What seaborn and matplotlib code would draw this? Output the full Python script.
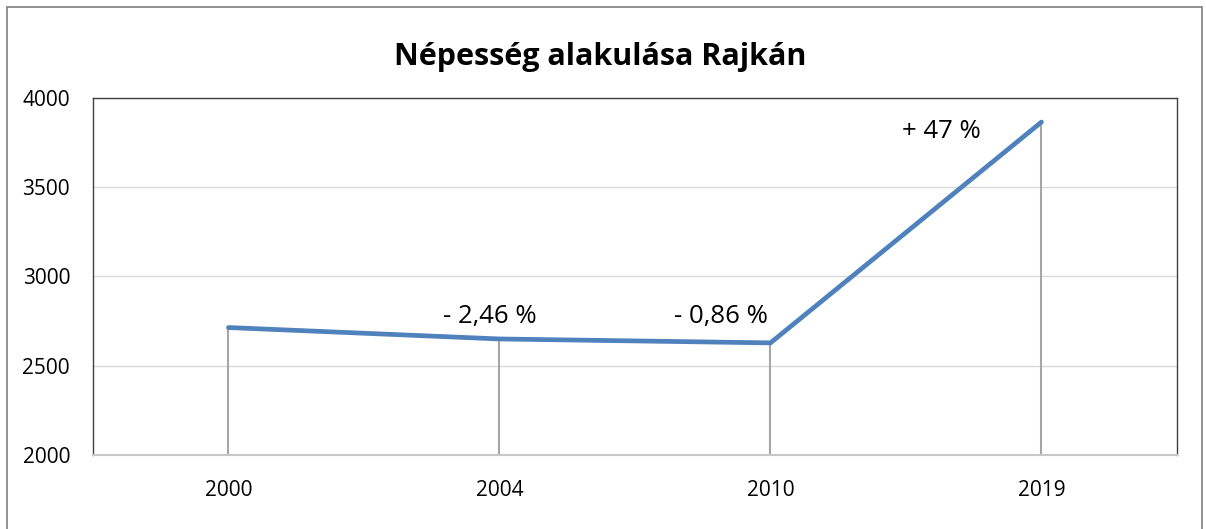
import matplotlib
matplotlib.use('Agg')
import matplotlib.pyplot as plt
from matplotlib.patches import Rectangle
import numpy as np
import pandas as pd
import seaborn as sns

# data
years = ['2000', '2004', '2010', '2019']
population = [2714, 2650, 2628, 3865]
change_labels = ['', '- 2,46 %', '- 0,86 %', '+ 47 %']
label_offsets_px = [(0, 0), (-10, 22), (-50, 26), (-100, -9)]

LINE_COLOR = '#4f81bd'
DROP_COLOR = '#a6a6a6'
GRID_COLOR = '#d9d9d9'

sns.set_style('white')
plt.rcParams['font.family'] = ['Open Sans', 'DejaVu Sans']
plt.rcParams['text.color'] = 'black'

df = pd.DataFrame({'pos': np.arange(len(years)), 'year': years, 'pop': population})

fig = plt.figure(figsize=(12.06, 5.29), dpi=100)
ax = fig.add_axes([0.0771, 0.1399, 0.8988, 0.6749])

# outer chart frame
fig.patches.append(Rectangle((7 / 1206, -0.05), 1195 / 1206, 1 - 7 / 529 + 0.05,
                             transform=fig.transFigure, fill=False,
                             edgecolor='#7f7f7f', linewidth=1.2))

ax.vlines(df['pos'], 2000, df['pop'], color=DROP_COLOR, linewidth=1.5, zorder=2)
sns.lineplot(data=df, x='pos', y='pop', ax=ax, color=LINE_COLOR, linewidth=3.4,
             solid_capstyle='round', zorder=3)

for i, row in df.iterrows():
    if change_labels[i]:
        ax.annotate(change_labels[i], xy=(row['pos'], row['pop']),
                    xytext=label_offsets_px[i], textcoords='offset pixels',
                    ha='center', va='center', fontsize=18.5, color='black')

ax.set_xlim(-0.5, len(years) - 0.5)
ax.set_ylim(2000, 4000)
ax.set_xticks(df['pos'])
ax.set_xticklabels(years)
ax.set_yticks([2000, 2500, 3000, 3500, 4000])
ax.tick_params(axis='both', length=0, labelsize=15, labelcolor='black')
ax.tick_params(axis='y', pad=16.5)
ax.tick_params(axis='x', pad=18)
ax.yaxis.grid(True, color=GRID_COLOR, linewidth=1.0, zorder=0)
ax.set_xlabel('')
ax.set_ylabel('')

for side in ['top', 'right', 'left']:
    ax.spines[side].set_color('#404040')
    ax.spines[side].set_linewidth(1.0)
ax.spines['bottom'].set_color('#c8c8c8')
ax.spines['bottom'].set_linewidth(1.5)

fig.text(0.4975, 1 - 57 / 529, 'Népesség alakulása Rajkán', ha='center', va='center',
         fontsize=22, fontweight='bold', color='black')

fig.savefig('out.png', dpi=100, facecolor='white')
